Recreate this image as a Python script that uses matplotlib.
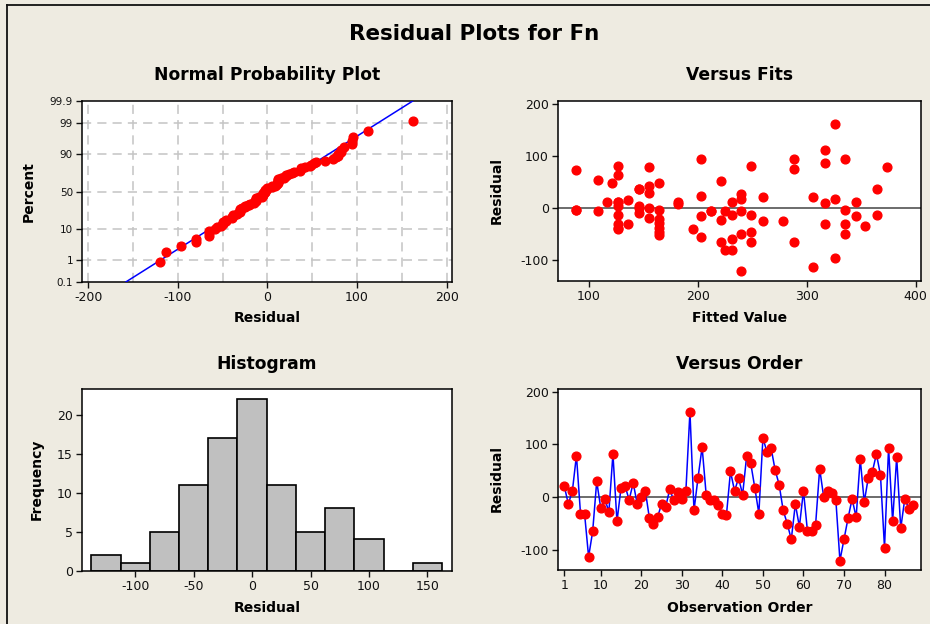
import numpy as np
import matplotlib
matplotlib.use("Agg")
import matplotlib.pyplot as plt
from matplotlib.lines import Line2D
from statistics import NormalDist

# Residuals in observation order
residuals = [21, -13, 12, 79, -31, -31, -113, -65, 30, -21,
             -3, -28, 82, -46, 18, 21, -5, 27, -13, 0,
             12, -40, -50, -38, -13, -19, 15, -6, 9, -3,
             12, 162, -25, 37, 95, 5, -5, -5, -15, -31,
             -34, 49, 12, 36, 5, 79, 64, 18, -31, 112,
             86, 94, 52, 24, -25, -50, -80, -13, -56, 12,
             -65, -65, -52, 54, 0, 11, 8, -6, -120, -80,
             -40, -3, -38, 73, -9, 37, 48, 82, 42, -96,
             94, -46, 76, -59, -3, -22, -15]

# Fitted values in observation order
fitted = [260, 365, 117, 155, 136, 127, 306, 249, 155, 164,
          88, 164, 249, 164, 326, 306, 108, 240, 231, 146,
          127, 196, 335, 164, 249, 155, 136, 212, 317, 164,
          345, 326, 260, 146, 288, 127, 225, 240, 203, 317,
          354, 121, 182, 146, 146, 374, 127, 240, 335, 317,
          317, 203, 221, 203, 278, 240, 225, 127, 203, 127,
          288, 221, 164, 108, 155, 231, 182, 212, 240, 231,
          127, 335, 127, 88, 146, 365, 164, 127, 155, 326,
          335, 249, 288, 231, 88, 221, 345]

prob_ticks = [0.1, 1, 10, 50, 90, 99, 99.9]
prob_labels = ["0.1", "1", "10", "50", "90", "99", "99.9"]
hist_edges = np.arange(-137.5, 162.5 + 1, 25)
hist_ticks = [-100, -50, 0, 50, 100, 150]
order_ticks = [1, 10, 20, 30, 40, 50, 60, 70, 80]

W, H = 930, 624
BG = "#EEEBE1"
RED = "#FF0000"
BLUE = "#0000FF"

plt.rcParams["font.family"] = "DejaVu Sans"
plt.rcParams["axes.unicode_minus"] = False
plt.rcParams["xtick.direction"] = "out"
plt.rcParams["ytick.direction"] = "out"

fig = plt.figure(figsize=(W / 100, H / 100), dpi=100, facecolor=BG)


def box(left, top, right, bottom):
    return [left / W, 1 - bottom / H, (right - left) / W, (bottom - top) / H]


def fx(x):
    return x / W


def fy(y):
    return 1 - y / H


def style(ax, ysize=9):
    ax.set_facecolor("white")
    for s in ax.spines.values():
        s.set_linewidth(1.1)
        s.set_color("black")
    ax.tick_params(axis="x", length=4, width=1, pad=2.5, labelsize=9,
                   colors="#111111")
    ax.tick_params(axis="y", length=4, width=1, pad=2.5, labelsize=ysize,
                   colors="#111111")


res = np.array(residuals, dtype=float)
fit = np.array(fitted, dtype=float)
obs = np.arange(1, len(res) + 1)
n = len(res)
nd = NormalDist()

# --- Normal probability plot ---
ax1 = fig.add_axes(box(82, 101, 452, 282))
style(ax1, ysize=7.5)
xs = np.sort(res)
pp = (np.arange(1, n + 1) - 0.3) / (n + 0.4)
zs = np.array([nd.inv_cdf(p) for p in pp])
zt = [nd.inv_cdf(p / 100) for p in prob_ticks]
mu, sd = res.mean(), res.std(ddof=1)
zline = np.array([zt[0], zt[-1]])
ax1.plot(mu + sd * zline, zline, color=BLUE, lw=1.1, zorder=3)
ax1.plot(xs, zs, "o", color=RED, ms=6.3, mec=RED, zorder=4)
ax1.set_xlim(-207, 206)
ax1.set_ylim(zt[0], zt[-1])
ax1.set_yticks(zt)
ax1.set_yticklabels(prob_labels)
ax1.set_xticks([-200, -100, 0, 100, 200])
for gx in np.arange(-200, 201, 50):
    ax1.axvline(gx, color="#C4C4C4", lw=1.1, ls=(0, (6, 4)), zorder=1)
for gz in zt[1:-1]:
    ax1.axhline(gz, color="#C4C4C4", lw=1.1, ls=(0, (6, 4)), zorder=1)

# --- Versus fits ---
ax2 = fig.add_axes(box(558, 101, 921, 281))
style(ax2)
ax2.axhline(0, color="#444444", lw=1.1, zorder=2)
ax2.plot(fit, res, "o", color=RED, ms=6.3, mec=RED, zorder=3)
ax2.set_xlim(71.6, 405)
ax2.set_ylim(-140, 206)
ax2.set_xticks([100, 200, 300, 400])
ax2.set_yticks([-100, 0, 100, 200])

# --- Histogram ---
ax3 = fig.add_axes(box(82, 388.5, 452, 570.5))
style(ax3)
ax3.hist(res, bins=hist_edges, color="#C0C0C0", edgecolor="black",
         linewidth=1.2, zorder=2)
ax3.set_xlim(-145.5, 171)
ax3.set_ylim(0, 23.4)
ax3.set_xticks(hist_ticks)
ax3.set_yticks([0, 5, 10, 15, 20])

# --- Versus order ---
ax4 = fig.add_axes(box(558, 388.5, 921, 570))
style(ax4)
ax4.axhline(0, color="#444444", lw=1.1, zorder=2)
ax4.plot(obs, res, color=BLUE, lw=1.1, zorder=3)
ax4.plot(obs, res, "o", color=RED, ms=6.3, mec=RED, zorder=4)
ax4.set_xlim(-0.55, 89)
ax4.set_ylim(-138, 206)
ax4.set_xticks(order_ticks)
ax4.set_yticks([-100, 0, 100, 200])

# --- Titles and labels ---
fig.text(fx(474), fy(34), "Residual Plots for Fn", ha="center", va="center",
         fontsize=15.4, fontweight="bold")
sub = dict(ha="center", va="center", fontsize=12.3, fontweight="bold")
fig.text(fx(267), fy(75), "Normal Probability Plot", **sub)
fig.text(fx(739.5), fy(75), "Versus Fits", **sub)
fig.text(fx(267), fy(364), "Histogram", **sub)
fig.text(fx(739.5), fy(364), "Versus Order", **sub)

lab = dict(ha="center", va="center", fontsize=10, fontweight="bold")
fig.text(fx(267), fy(318), "Residual", **lab)
fig.text(fx(739.5), fy(318), "Fitted Value", **lab)
fig.text(fx(267), fy(607.5), "Residual", **lab)
fig.text(fx(739.5), fy(607.5), "Observation Order", **lab)
fig.text(fx(29), fy(191.5), "Percent", rotation=90, **lab)
fig.text(fx(497), fy(191), "Residual", rotation=90, **lab)
fig.text(fx(37), fy(479.5), "Frequency", rotation=90, **lab)
fig.text(fx(497), fy(479), "Residual", rotation=90, **lab)

# Outer frame
fig.add_artist(Line2D([fx(7), fx(7)], [fy(5), 0], transform=fig.transFigure,
                      color="#111111", lw=1.3))
fig.add_artist(Line2D([fx(7), 1], [fy(5), fy(5)], transform=fig.transFigure,
                      color="#111111", lw=1.3))

fig.savefig("out.png", dpi=100, facecolor=BG)
